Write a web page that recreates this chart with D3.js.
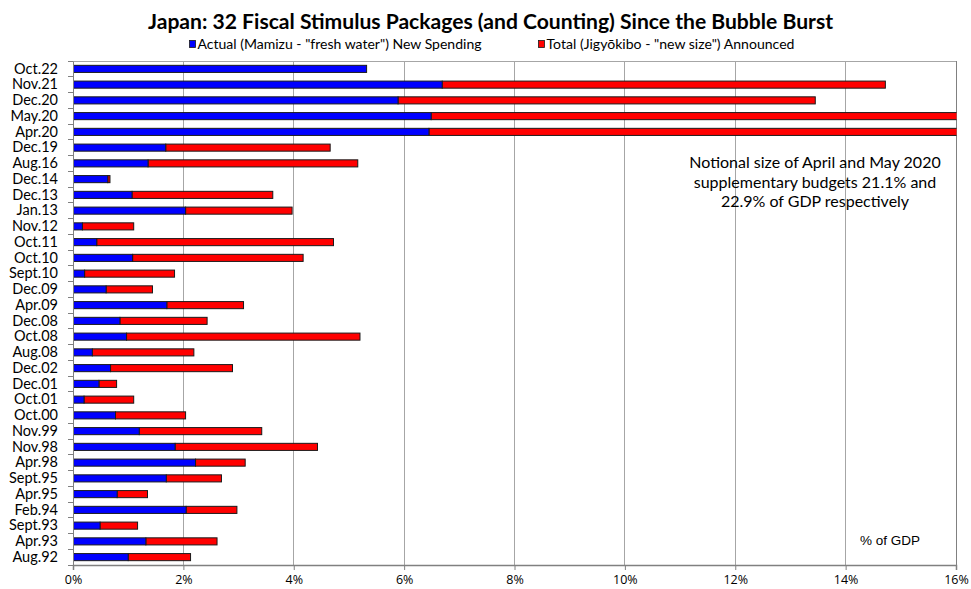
<!DOCTYPE html>
<html><head><meta charset="utf-8">
<script src="https://cdn.jsdelivr.net/npm/d3@7"></script>
<style>
body{margin:0;background:#fff;}
svg{display:block;}
</style></head>
<body>
<svg id="chart" width="971" height="589"></svg>
<script>
const categories = ["Oct.22","Nov.21","Dec.20","May.20","Apr.20","Dec.19","Aug.16","Dec.14","Dec.13","Jan.13","Nov.12","Oct.11","Oct.10","Sept.10","Dec.09","Apr.09","Dec.08","Oct.08","Aug.08","Dec.02","Dec.01","Oct.01","Oct.00","Nov.99","Nov.98","Apr.98","Sept.95","Apr.95","Feb.94","Sept.93","Apr.93","Aug.92"];
const actual = [5.32,6.69,5.89,6.49,6.45,1.68,1.36,0.63,1.07,2.04,0.17,0.43,1.08,0.21,0.60,1.70,0.85,0.97,0.35,0.68,0.47,0.20,0.77,1.20,1.85,2.22,1.69,0.80,2.05,0.49,1.32,1.00];
const total  = [5.32,14.72,13.45,22.9,21.1,4.66,5.16,0.67,3.62,3.97,1.10,4.72,4.17,1.84,1.44,3.09,2.43,5.20,2.19,2.89,0.79,1.10,2.04,3.42,4.43,3.12,2.69,1.35,2.97,1.17,2.61,2.13];
const xTicks = [0,2,4,6,8,10,12,14,16];
const seriesNames = ['Actual (Mamizu - "fresh water") New Spending','Total (Jigyōkibo - "new size") Announced'];
const seriesColors = ["#0000ff","#ff0000"];
const titleText = "Japan: 32 Fiscal Stimulus Packages (and Counting) Since the Bubble Burst";
const noteLines = ["Notional size of April and May 2020","supplementary budgets 21.1% and","22.9% of GDP respectively"];
const unitLabel = "% of GDP";

(function(){
const svg = d3.select("#chart");
const pL = 73, pR = 956, pT = 61, pB = 565;
const x = d3.scaleLinear().domain([0,16]).range([pL,pR]);
const y = d3.scaleBand().domain(categories).range([pT,pB]).paddingInner(0.55).paddingOuter(0.275);

const calib = "Lato, 'Open Sans', sans-serif";

svg.append("g").selectAll("line").data(xTicks.slice(1)).join("line")
  .attr("x1",d=>x(d)).attr("x2",d=>x(d)).attr("y1",pT).attr("y2",pB)
  .attr("stroke","#a6a6a6").attr("stroke-width",1).attr("shape-rendering","crispEdges");
svg.append("line").attr("x1",pL).attr("x2",pR).attr("y1",pT).attr("y2",pT)
  .attr("stroke","#a6a6a6").attr("shape-rendering","crispEdges");
svg.append("line").attr("x1",pR).attr("x2",pR).attr("y1",pT).attr("y2",pB)
  .attr("stroke","#808080").attr("shape-rendering","crispEdges");

svg.append("clipPath").attr("id","clip").append("rect")
  .attr("x",pL).attr("y",pT).attr("width",pR-pL+0.5).attr("height",pB-pT);

const rows = categories.map((c,i)=>({c,a:actual[i],t:total[i]}));
const g = svg.append("g").attr("clip-path","url(#clip)");
g.selectAll("rect.red").data(rows.filter(d=>d.t>d.a)).join("rect").attr("class","red")
  .attr("x",d=>x(d.a)).attr("width",d=>x(d.t)-x(d.a))
  .attr("y",d=>y(d.c)).attr("height",y.bandwidth())
  .attr("fill",seriesColors[1]).attr("stroke","#1a1a1a").attr("stroke-width",1);
g.selectAll("rect.blue").data(rows).join("rect").attr("class","blue")
  .attr("x",x(0)).attr("width",d=>x(d.a)-x(0))
  .attr("y",d=>y(d.c)).attr("height",y.bandwidth())
  .attr("fill",seriesColors[0]).attr("stroke","#1a1a1a").attr("stroke-width",1);

const yAxis = svg.append("g").attr("transform",`translate(${pL},0)`)
  .call(d3.axisLeft(y).tickSize(0).tickPadding(15));
yAxis.select(".domain").attr("stroke","#808080");
yAxis.selectAll("text").attr("font-family",calib).attr("font-size",14.5).attr("fill","#000");
const bounds = d3.range(categories.length+1).map(i=>pT+i*y.step());
svg.append("g").selectAll("line").data(bounds).join("line")
  .attr("x1",pL-5).attr("x2",pL).attr("y1",d=>d).attr("y2",d=>d)
  .attr("stroke","#808080").attr("shape-rendering","crispEdges");

const xAxis = svg.append("g").attr("transform",`translate(0,${pB})`)
  .call(d3.axisBottom(x).tickValues(xTicks).tickFormat(d=>d+"%").tickSize(5).tickPadding(5));
xAxis.select(".domain").attr("stroke","#808080").attr("stroke-width",1.5);
xAxis.selectAll(".tick line").attr("stroke","#808080");
xAxis.selectAll("text").attr("font-family","'Open Sans', sans-serif").attr("font-size",12.5).attr("fill","#000");

svg.append("text").attr("x",490.5).attr("y",29).attr("text-anchor","middle")
  .attr("font-family",calib).attr("font-weight","bold").attr("font-size",21)
  .attr("textLength",685).attr("lengthAdjust","spacingAndGlyphs").text(titleText);

const leg = [{x:189.5,w:284},{x:538.5,w:248}];
seriesNames.forEach((n,i)=>{
  svg.append("rect").attr("x",leg[i].x).attr("y",40.5).attr("width",6).attr("height",7)
    .attr("fill",seriesColors[i]).attr("stroke","#1a1a1a").attr("stroke-width",0.8);
  svg.append("text").attr("x",leg[i].x+8).attr("y",49).attr("font-family",calib)
    .attr("font-size",12.5).attr("textLength",leg[i].w).attr("lengthAdjust","spacingAndGlyphs").text(n);
});

svg.append("g").selectAll("text").data(noteLines).join("text")
  .attr("x",815).attr("y",(d,i)=>168+i*19.5).attr("text-anchor","middle")
  .attr("font-family",calib).attr("font-size",16).text(d=>d);
svg.append("text").attr("x",890).attr("y",545).attr("text-anchor","middle")
  .attr("font-family","'Liberation Sans', Arial, sans-serif").attr("font-size",13.5).text(unitLabel);
})();
</script>
</body></html>
